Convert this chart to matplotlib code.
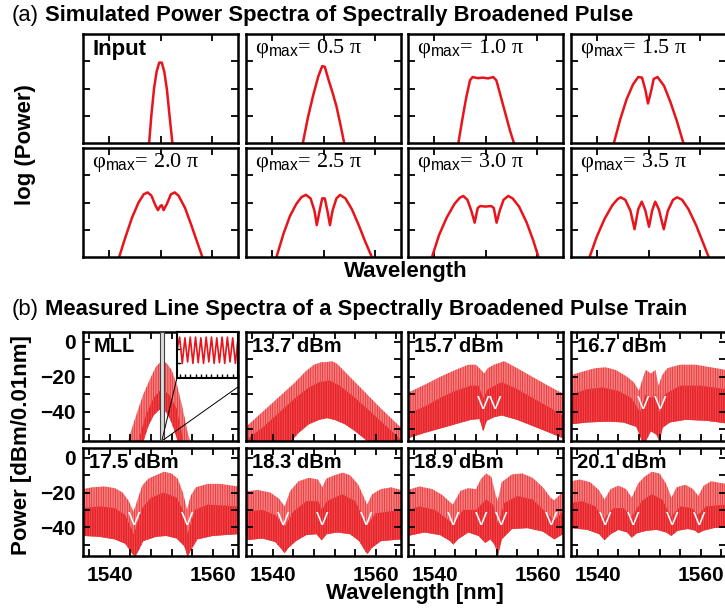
import matplotlib.pyplot as plt
from matplotlib.ticker import MultipleLocator

plt.rcParams['font.family'] = 'Liberation Sans'
plt.rcParams['mathtext.fontset'] = 'custom'
plt.rcParams['mathtext.rm'] = 'Liberation Serif'
plt.rcParams['mathtext.sf'] = 'Liberation Sans'
plt.rcParams['mathtext.it'] = 'Liberation Serif:italic'
plt.rcParams['hatch.linewidth'] = 0.5

# ---------------- (a) simulated spectra, log power vs relative wavelength
sim_labels = ['Input', '0.5', '1.0', '1.5', '2.0', '2.5', '3.0', '3.5']

input_x = [-0.44, -0.35, -0.25, -0.15, -0.05, 0.05, 0.15, 0.25, 0.35, 0.46]
input_y = [0, 1.05, 2.0, 2.62, 2.95, 2.95, 2.6, 1.95, 1.0, 0]
phi05_x = [-0.8, -0.6, -0.4, -0.2, -0.05, 0.05, 0.2, 0.35, 0.5, 0.65, 0.8]
phi05_y = [0, 0.95, 1.75, 2.45, 2.82, 2.8, 2.3, 1.85, 1.35, 0.7, 0]
phi10_x = [-1.05, -0.9, -0.75, -0.6, -0.5, -0.3, -0.1, 0.1, 0.3, 0.42, 0.55, 0.75, 0.95, 1.1]
phi10_y = [0, 0.85, 1.65, 2.3, 2.42, 2.38, 2.4, 2.37, 2.42, 2.3, 1.85, 1.15, 0.45, 0]
phi15_x = [-1.34, -1.1, -0.85, -0.6, -0.4, -0.25, -0.12, -0.02, 0.1, 0.2, 0.35, 0.6, 0.85, 1.1, 1.35]
phi15_y = [0, 0.85, 1.6, 2.15, 2.42, 2.4, 1.95, 1.45, 1.9, 2.35, 2.42, 2.1, 1.5, 0.8, 0]
phi20_x = [-1.6, -1.35, -1.1, -0.85, -0.65, -0.5, -0.35, -0.2, -0.1, 0.0, 0.05, 0.12, 0.25, 0.4,
           0.55, 0.7, 0.95, 1.2, 1.4, 1.62]
phi20_y = [0, 0.75, 1.45, 2.0, 2.3, 2.37, 2.25, 1.9, 1.72, 1.88, 1.9, 1.72, 1.95, 2.3,
           2.37, 2.25, 1.8, 1.15, 0.6, 0]
phi25_x = [-1.82, -1.55, -1.3, -1.05, -0.85, -0.68, -0.5, -0.35, -0.26, -0.15, -0.05, 0.05, 0.15,
           0.25, 0.35, 0.5, 0.64, 0.85, 1.1, 1.35, 1.6, 1.87]
phi25_y = [0, 0.85, 1.5, 1.95, 2.2, 2.28, 2.15, 1.7, 1.17, 1.7, 2.15, 2.15, 1.7,
           1.17, 1.7, 2.15, 2.28, 2.15, 1.75, 1.2, 0.6, 0]
phi30_x = [-2.07, -1.8, -1.5, -1.2, -1.0, -0.86, -0.7, -0.55, -0.42, -0.3, -0.2, 0.0, 0.22, 0.32,
           0.43, 0.55, 0.7, 0.88, 1.05, 1.3, 1.6, 1.85, 2.05]
phi30_y = [0, 0.8, 1.45, 1.95, 2.17, 2.24, 2.1, 1.7, 1.26, 1.8, 1.87, 1.85, 1.87, 1.8,
           1.26, 1.7, 2.1, 2.24, 2.15, 1.85, 1.25, 0.6, 0]
phi35_x = [-2.28, -2.0, -1.7, -1.4, -1.2, -1.08, -0.9, -0.7, -0.54, -0.4, -0.26, -0.12, 0.02, 0.14,
           0.26, 0.4, 0.59, 0.75, 0.95, 1.11, 1.3, 1.55, 1.85, 2.1, 2.33]
phi35_y = [0, 0.75, 1.4, 1.9, 2.12, 2.19, 2.1, 1.7, 1.02, 1.75, 2.03, 1.7, 1.11, 1.7,
           2.03, 1.75, 1.02, 1.7, 2.1, 2.19, 2.1, 1.75, 1.15, 0.55, 0]

sim_curves = [(input_x, input_y), (phi05_x, phi05_y), (phi10_x, phi10_y), (phi15_x, phi15_y),
              (phi20_x, phi20_y), (phi25_x, phi25_y), (phi30_x, phi30_y), (phi35_x, phi35_y)]

# ---------------- (b) measured line spectra: envelopes (wavelength nm, dBm)
power_labels = ['MLL', '13.7 dBm', '15.7 dBm', '16.7 dBm', '17.5 dBm', '18.3 dBm', '18.9 dBm', '20.1 dBm']

mll_upper = [(1543.5, -57), (1545, -43), (1546.5, -30), (1548, -20), (1549, -14), (1550, -11),
             (1551, -12), (1552, -16), (1553, -24), (1554, -36), (1555, -50), (1555.6, -57)]
mll_core = [(1545.5, -57), (1547, -42), (1548.5, -32), (1550, -27), (1551.5, -30), (1553, -38),
            (1554.3, -57)]
mll_lower = [(1546.5, -57), (1547.5, -48), (1548.5, -42), (1549.5, -39), (1550, -38.5),
             (1550.8, -39.5), (1551.7, -44), (1552.5, -50), (1553.2, -57)]
mll_inset = [-21, -12, -30, -12.5, -29, -12, -30, -12, -29.5, -12.5, -30, -12, -29, -12,
             -30, -12.5, -29.5, -12, -30, -12, -29, -12.5, -30, -13]

p137_upper = [(1534.8, -48.5), (1538, -40), (1541, -32), (1544, -24), (1546.5, -16.5), (1548, -13),
              (1549.5, -11.5), (1550.5, -11.5), (1551.5, -11), (1552.5, -12.5), (1555, -20),
              (1558, -29), (1561, -38), (1564.9, -49)]
p137_core = [(1534.8, -56), (1538, -49), (1541, -41), (1544, -33), (1547, -26), (1549, -23),
             (1551, -22), (1553, -25), (1556, -32), (1559, -40), (1562, -48), (1564.9, -56)]
p137_lower = [(1534.8, -57), (1543.5, -57), (1545, -52), (1547, -47), (1549, -44.5), (1550.5, -43.5),
              (1552, -44.5), (1554, -47), (1556, -51), (1558.5, -57), (1564.9, -57)]

p157_upper = [(1534.8, -29), (1538, -24.5), (1541, -20), (1544, -16), (1546.5, -13), (1548, -13),
              (1549, -16), (1549.6, -18), (1550.3, -15), (1551.5, -13), (1553.5, -11), (1556, -15),
              (1559, -20), (1562, -25), (1564.9, -29.5)]
p157_core = [(1534.8, -41), (1538, -37), (1541, -32), (1544, -28), (1547, -25), (1548.5, -25),
             (1549.4, -32), (1550.3, -27), (1553, -23), (1556, -27), (1559, -32), (1562, -37),
             (1564.9, -42)]
p157_lower = [(1534.8, -55), (1538, -52), (1541, -49.5), (1544, -47), (1547, -44.5), (1548.7, -44),
              (1549.4, -51), (1550.1, -45), (1551.5, -43), (1553, -42), (1556, -44.5), (1559, -48),
              (1562, -51.5), (1564.9, -55)]

p167_upper = [(1534.8, -19), (1537, -17), (1539.5, -15), (1541.5, -14.5), (1543.5, -16), (1545.5, -19.5),
              (1547, -23), (1548, -28), (1548.6, -22), (1549.3, -16), (1550.3, -18), (1551.2, -16),
              (1551.8, -25), (1552.5, -19), (1553.5, -15), (1556, -13), (1559, -13), (1562, -14.5),
              (1564.9, -16)]
p167_core = [(1534.8, -30), (1538, -27), (1541, -26), (1544, -28), (1546.5, -32), (1548.2, -40),
             (1549.3, -30), (1550.4, -32), (1551.3, -30), (1552, -40), (1553, -30), (1556, -25),
             (1560, -25), (1564.9, -27)]
p167_lower = [(1534.8, -47), (1538, -46), (1542, -45.5), (1545, -46), (1547.5, -48.5), (1548.6, -57),
              (1549.3, -57), (1550.3, -51), (1551.4, -53), (1552, -57), (1552.6, -49), (1554, -46),
              (1557, -44.5), (1561, -45), (1564.9, -46.5)]

p175_upper = [(1534.8, -18), (1536.5, -17), (1539, -16.5), (1541, -17.5), (1542.5, -20), (1543.7, -25),
              (1544.6, -31), (1545.3, -25), (1546.3, -16), (1547.5, -12), (1549, -10), (1550.5, -8),
              (1552, -9), (1553.2, -12), (1554.2, -20), (1555, -30), (1555.7, -22), (1556.7, -17),
              (1559, -15), (1561.5, -15), (1564.9, -16.5)]
p175_core = [(1534.8, -29), (1538, -28), (1541, -29), (1543, -33), (1544.7, -44), (1546.3, -29),
             (1548, -23), (1550.5, -20), (1553, -23), (1554.5, -32), (1555.1, -44), (1556.5, -30),
             (1559, -27), (1564.9, -28)]
p175_lower = [(1534.8, -45), (1538, -45.5), (1541, -47), (1543, -49.5), (1544.3, -55), (1544.9, -57),
              (1545.5, -54), (1546.5, -48), (1549, -45.5), (1551, -45), (1553, -46.5), (1554.5, -51),
              (1555.1, -57), (1555.8, -53), (1557, -47), (1560, -45), (1564.9, -44)]

p183_upper = [(1534.8, -19.5), (1537, -18.5), (1539.5, -20), (1541.2, -23.5), (1542.3, -28),
              (1543.4, -19), (1545, -13.5), (1547, -11.5), (1548.8, -12.5), (1549.6, -17),
              (1550.4, -12), (1552, -10), (1553.6, -8.5), (1555, -10), (1556.5, -15), (1557.6, -22),
              (1558.3, -27), (1559.3, -21), (1561, -18), (1563, -17), (1564.9, -18.5)]
p183_core = [(1534.8, -31), (1538, -30), (1540.5, -33), (1542.3, -40), (1544, -31), (1546.5, -25),
             (1548.8, -25), (1549.6, -30), (1550.5, -25), (1553.5, -21), (1556, -25), (1558.3, -39),
             (1560, -32), (1564.9, -30)]
p183_lower = [(1534.8, -47.5), (1538, -46.5), (1540.5, -48.5), (1541.8, -53), (1542.3, -55),
              (1543, -52), (1544.5, -48), (1546.5, -44.5), (1548.5, -44), (1549.5, -47.5),
              (1550.5, -44), (1552.5, -43), (1555, -44), (1556.8, -48), (1558, -54), (1558.4, -55.5),
              (1559.2, -52), (1561, -48), (1564.9, -47)]

p189_upper = [(1534.8, -18.5), (1537, -16.5), (1539.5, -18), (1541.5, -21.5), (1543.5, -27),
              (1545, -19), (1546.5, -17.5), (1548, -18), (1549, -12), (1550, -9), (1551, -11),
              (1551.7, -20), (1552.2, -25), (1553, -14), (1555, -9.5), (1557, -9), (1559, -11.5),
              (1561, -17), (1562.5, -23), (1563.2, -24.5), (1564.9, -19.5)]
p189_core = [(1534.8, -30), (1537, -28), (1540, -30), (1543.6, -38), (1545.5, -30), (1548, -30),
             (1550, -24), (1551.3, -27), (1552.3, -38), (1553.5, -26), (1556, -22), (1559, -24),
             (1562.5, -34), (1563.2, -36), (1564.9, -31)]
p189_lower = [(1534.8, -45), (1538, -43), (1541, -44.5), (1543, -48), (1543.6, -50), (1544.5, -47),
              (1546.5, -43), (1548.5, -45), (1549.8, -49), (1550.8, -47), (1551.6, -50), (1552.3, -56),
              (1553, -47), (1555, -41), (1558, -40.5), (1561, -42.5), (1562.5, -45.5), (1563.2, -47),
              (1564.9, -44)]

p201_upper = [(1534.8, -13.5), (1536.5, -12.5), (1538.5, -14), (1540.2, -18.5), (1541.3, -24),
              (1542.5, -18), (1544, -16), (1545.5, -18), (1546.6, -23), (1547.8, -15), (1549, -11),
              (1550.5, -8), (1552, -9), (1553.3, -15), (1554.3, -23), (1555.3, -17), (1557, -15.5),
              (1558.5, -18), (1559.5, -22), (1560.6, -16), (1562, -13.5), (1564.9, -15)]
p201_core = [(1534.8, -26), (1537, -25), (1539.5, -28), (1541.3, -35), (1543, -29), (1545, -29),
             (1546.6, -34), (1548.5, -25), (1550.5, -21), (1552.5, -24), (1554.3, -34), (1556, -28),
             (1558.3, -29), (1559.5, -33), (1561, -28), (1564.9, -27)]
p201_lower = [(1534.8, -40.5), (1538, -41.5), (1540.3, -44), (1541.3, -47.5), (1542.5, -44),
              (1544, -41.5), (1545.7, -43), (1546.6, -46), (1547.6, -43.5), (1549.5, -42),
              (1551.5, -41.5), (1553.3, -43), (1554.3, -45), (1555.5, -42), (1557.5, -41),
              (1559, -42), (1559.5, -43.5), (1560.5, -42), (1562.5, -40.5), (1564.9, -40)]

meas_bands = [(mll_upper, mll_core, mll_lower), (p137_upper, p137_core, p137_lower),
              (p157_upper, p157_core, p157_lower), (p167_upper, p167_core, p167_lower),
              (p175_upper, p175_core, p175_lower), (p183_upper, p183_core, p183_lower),
              (p189_upper, p189_core, p189_lower), (p201_upper, p201_core, p201_lower)]

# positions of the white "V" markers (nm)
v_marks = [[], [], [1549.4, 1551.8], [1548.8, 1552.2],
           [1544.8, 1555.1], [1542.1, 1549.6, 1558.2],
           [1543.6, 1549.1, 1552.8, 1562.7], [1541.4, 1546.8, 1554.5, 1559.7]]

W, H = 725, 610
fig = plt.figure(figsize=(7.25, 6.1), dpi=100)


def box(left, top, w, h):
    return [left / W, 1 - (top + h) / H, w / W, h / H]


def frame(ax):
    for s in ax.spines.values():
        s.set_linewidth(1.8)
    ax.tick_params(which='both', direction='in', top=True, right=True,
                   length=5, width=1.3, labelsize=15, pad=5)


cols = [83, 246, 408, 571]
RED = '#e8141c'

# (a)
for i, (cx, cy) in enumerate(sim_curves):
    row, col = divmod(i, 4)
    ax = fig.add_axes(box(cols[col], [34, 148][row], 155, 109))
    ax.plot(cx, cy, color=RED, lw=1.8)
    ax.set_xlim(-3, 3)
    ax.set_ylim(0, 4)
    ax.set_xticks([-2, 0, 2])
    ax.set_yticks([1, 2, 3])
    ax.set_xticklabels([])
    ax.set_yticklabels([])
    frame(ax)
    if i == 0:
        ax.text(0.06, 0.955, sim_labels[i], transform=ax.transAxes, fontsize=16,
                va='top', ha='left', weight='bold')
    else:
        ax.text(0.06, 0.97, r'$\mathrm{φ}_{\mathsf{max}}$= ' + sim_labels[i] + ' π',
                transform=ax.transAxes, fontsize=16, va='top', ha='left',
                family='Liberation Serif')

# (b)
for i, (up, core, low) in enumerate(meas_bands):
    row, col = divmod(i, 4)
    ax = fig.add_axes(box(cols[col], [332, 448][row], 155, 109 if row == 0 else 108))
    ux, uy = zip(*up)
    cx, cy = zip(*core)
    lx, ly = zip(*low)
    band_x = list(ux) + list(lx[::-1])
    band_y = list(uy) + list(ly[::-1])
    core_x = list(cx) + list(lx[::-1])
    core_y = list(cy) + list(ly[::-1])
    ax.fill(band_x, band_y, color='#f47f7f', lw=0)
    ax.fill(band_x, band_y, facecolor='none', edgecolor='#e8262b', hatch='|||||||', lw=0)
    ax.fill(core_x, core_y, color='#e8242a', lw=0)
    ax.fill(core_x, core_y, facecolor='none', edgecolor='#f0595c', hatch='|||||||', lw=0)
    for v in v_marks[i]:
        ax.text(v, -36, 'V', color='white', ha='center', va='center', fontsize=13.5)
    ax.set_xlim(1534.8, 1564.9)
    ax.set_ylim(-56.6, 5.7)
    ax.xaxis.set_major_locator(MultipleLocator(20))
    ax.xaxis.set_minor_locator(MultipleLocator(4))
    ax.yaxis.set_major_locator(MultipleLocator(20))
    ax.yaxis.set_minor_locator(MultipleLocator(10))
    frame(ax)
    ax.tick_params(axis='x', pad=7)
    for lbl in ax.get_xticklabels() + ax.get_yticklabels():
        lbl.set_fontweight('bold')
    if col != 0:
        ax.set_yticklabels([])
    if row == 0:
        ax.set_xticklabels([])
    ax.text(0.07 if i == 0 else 0.04, 0.955, power_labels[i], transform=ax.transAxes,
            fontsize=14.5, va='top', ha='left', weight='bold')
    if i == 0:
        ax.axvspan(1549.75, 1550.5, facecolor='#dcdcdc', edgecolor='#404040', lw=0.8, zorder=3)
        ax.plot([1550.1, 1553.05], [-56.6, -20.6], color='k', lw=0.7, zorder=4)
        ax.plot([1550.1, 1564.9], [-56.6, -25.7], color='k', lw=0.7, zorder=4)
        ins = ax.inset_axes([1553.05, -20.6, 1564.9 - 1553.05, 5.7 + 20.6],
                            transform=ax.transData, zorder=5)
        ins.plot(range(len(mll_inset)), mll_inset, color=RED, lw=1.2)
        ins.set_xlim(0, len(mll_inset) - 1)
        ins.set_ylim(-40, -8.5)
        ins.set_xticks(range(1, len(mll_inset), 2))
        ins.set_yticks([-30, -20])
        ins.set_xticklabels([])
        ins.set_yticklabels([])
        for s in ins.spines.values():
            s.set_linewidth(1.5)
        ins.tick_params(direction='in', length=3, width=1)

# titles and axis labels
fig.text(12 / W, 1 - 16 / H, '(a)', fontsize=15.8, va='center')
fig.text(45 / W, 1 - 16 / H, 'Simulated Power Spectra of Spectrally Broadened Pulse',
         fontsize=15.8, va='center', weight='bold')
fig.text(12 / W, 1 - 310 / H, '(b)', fontsize=15.8, va='center')
fig.text(45 / W, 1 - 310 / H, 'Measured Line Spectra of a Spectrally Broadened Pulse Train',
         fontsize=15.8, va='center', weight='bold')
fig.text(406 / W, 1 - 271 / H, 'Wavelength', fontsize=16, ha='center', va='center',
         weight='bold')
fig.text(25 / W, 1 - 145 / H, 'log (Power)', fontsize=16, ha='center', va='center',
         rotation=90, weight='bold')
fig.text(22 / W, 1 - 445 / H, 'Power [dBm/0.01nm]', fontsize=16, ha='center', va='center',
         rotation=90, weight='bold')
fig.text(415 / W, 1 - 594 / H, 'Wavelength [nm]', fontsize=16, ha='center', va='center',
         weight='bold')

fig.savefig('out.png', dpi=100)
